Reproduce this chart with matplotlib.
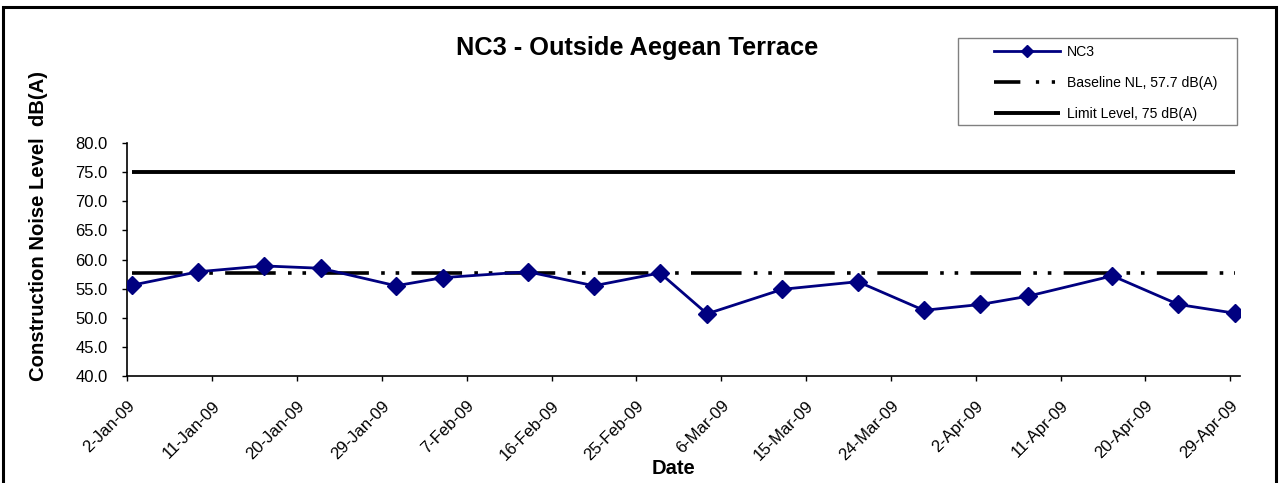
import matplotlib
matplotlib.use("Agg")
import matplotlib.pyplot as plt
from matplotlib.patches import Rectangle
from matplotlib.lines import Line2D
import pandas as pd

plt.rcParams['font.family'] = ['Liberation Sans', 'DejaVu Sans']

# ---- data ----
dates = ["2009-01-02", "2009-01-09", "2009-01-16", "2009-01-22", "2009-01-30",
         "2009-02-04", "2009-02-13", "2009-02-20", "2009-02-27", "2009-03-04",
         "2009-03-12", "2009-03-20", "2009-03-27", "2009-04-02", "2009-04-07",
         "2009-04-16", "2009-04-23", "2009-04-29"]
nc3 = [55.6, 57.9, 58.9, 58.5, 55.5, 56.9, 57.9, 55.5, 57.7, 50.7,
       54.9, 56.2, 51.3, 52.3, 53.7, 57.2, 52.3, 50.8]
baseline = 57.7
limit = 75.0
series_labels = ["NC3", "Baseline NL, 57.7 dB(A)", "Limit Level, 75 dB(A)"]
title = "NC3 - Outside Aegean Terrace"
ylabel = "Construction Noise Level  dB(A)"
xlabel = "Date"
yticks = [40, 45, 50, 55, 60, 65, 70, 75, 80]

# ---- figure ----
W, H = 1279, 483
fig = plt.figure(figsize=(W / 100, H / 100), dpi=100)
fig.patch.set_facecolor("white")

# outer chart frame
fig.patches.append(Rectangle((3 / W, -0.05), (1276 - 3) / W, 1.05 - 7 / H,
                             transform=fig.transFigure, fill=False,
                             edgecolor="black", linewidth=2.2, zorder=10))

ax = fig.add_axes([127.3 / W, 1 - 376.3 / H, (1239.7 - 127.3) / W, (376.3 - 142.7) / H])

d = pd.to_datetime(dates) + pd.Timedelta(hours=12)

l_limit, = ax.plot(d, [limit] * len(d), color="black", lw=2.8, solid_capstyle="butt",
                   label=series_labels[2], zorder=2)
l_base, = ax.plot(d, [baseline] * len(d), color="black", lw=2.6,
                  dashes=(14.0, 3.4, 1.0, 3.0, 1.0, 3.4), dash_capstyle="butt",
                  label=series_labels[1], zorder=2)
l_nc3, = ax.plot(d, nc3, color="#000080", lw=2.0, marker="D", markersize=9,
                 markerfacecolor="#000080", markeredgecolor="#000080",
                 label=series_labels[0], zorder=3)

ax.set_ylim(40, 80)
ax.set_yticks(yticks)
ax.yaxis.set_major_formatter(matplotlib.ticker.FormatStrFormatter("%.1f"))
ax.set_xlim(pd.Timestamp("2009-01-02"), pd.Timestamp("2009-04-30"))
tick_dates = pd.date_range("2009-01-02", "2009-04-29", freq="9D")
ax.set_xticks(tick_dates)
ax.set_xticklabels([f"{t.day}-{t.strftime('%b-%y')}" for t in tick_dates],
                   rotation=45, ha="right", va="top", rotation_mode="anchor")

for s in ["top", "right"]:
    ax.spines[s].set_visible(False)
for s in ["left", "bottom"]:
    ax.spines[s].set_linewidth(1.2)
ax.tick_params(axis="both", direction="out", length=3.6, width=1, labelsize=12,
               colors="black")
ax.tick_params(axis="x", pad=12)
ax.tick_params(axis="y", pad=10.5)

fig.text(637 / W, 1 - 48 / H, title, ha="center", va="center",
         fontsize=18.3, fontweight="bold")
fig.text(39 / W, 1 - 226 / H, ylabel, ha="center", va="center", rotation=90,
         fontsize=14.6, fontweight="bold")
fig.text(673 / W, 1 - 468 / H, xlabel, ha="center", va="center",
         fontsize=14.5, fontweight="bold")

# legend frame (Excel-style, generous padding)
fig.patches.append(Rectangle((958 / W, 1 - 125 / H), (1237 - 958) / W, (125 - 38) / H,
                             transform=fig.transFigure, fill=False,
                             edgecolor="#808080", linewidth=1.0, zorder=5))
h_nc3 = Line2D([], [], color="#000080", lw=2.0, marker="D", markersize=6,
               markerfacecolor="#000080", markeredgecolor="#000080")
h_base = Line2D([], [], color="black", lw=2.6,
                dashes=(7.3, 4.3, 0.9, 3.5, 0.9, 4.3), dash_capstyle="butt")
h_limit = Line2D([], [], color="black", lw=2.8, solid_capstyle="butt")
leg = fig.legend(handles=[h_nc3, h_base, h_limit], labels=series_labels,
                 loc="upper left", bbox_to_anchor=(994 / W - 0.0002, 1 - 45 / H),
                 fontsize=10.1, frameon=False,
                 handlelength=4.7, handletextpad=0.5, labelspacing=1.2,
                 borderpad=0.0, borderaxespad=0)

fig.savefig("out.png", dpi=100, facecolor="white")
